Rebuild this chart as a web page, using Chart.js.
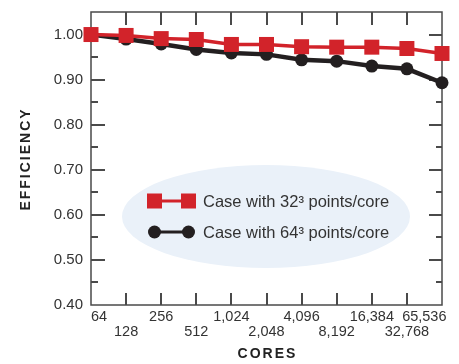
<!DOCTYPE html>
<html>
<head>
<meta charset="utf-8">
<script src="https://cdn.jsdelivr.net/npm/chart.js@4/dist/chart.umd.min.js"></script>
<style>
  html, body { margin: 0; padding: 0; background: #ffffff; }
  #wrap { width: 459px; height: 364px; }
</style>
</head>
<body>
<div id="wrap"><canvas id="c" width="459" height="364"></canvas></div>
<script>
// ---- data ----
const categories = ['64', '128', '256', '512', '1,024', '2,048', '4,096', '8,192', '16,384', '32,768', '65,536'];
const case32 = [1.000, 0.998, 0.991, 0.989, 0.978, 0.978, 0.973, 0.972, 0.972, 0.969, 0.958];
const case64 = [1.000, 0.990, 0.979, 0.967, 0.959, 0.956, 0.944, 0.941, 0.930, 0.924, 0.893];
const yTickValues = [0.40, 0.50, 0.60, 0.70, 0.80, 0.90, 1.00];
const yMinorValues = [0.45, 0.55, 0.65, 0.75, 0.85, 0.95];
const seriesNames = ['Case with 32³ points/core', 'Case with 64³ points/core'];
const xTitle = 'CORES';
const yTitle = 'EFFICIENCY';

const RED = '#d2232a';
const BLACK = '#231f20';
const AXIS = '#4a4a4a';
const TEXT = '#333333';

const framePlugin = {
  id: 'frame',
  beforeDatasetsDraw(chart) {
    const ctx = chart.ctx;
    const a = chart.chartArea;
    const xs = chart.scales.x, ys = chart.scales.y;
    ctx.save();
    // legend ellipse
    ctx.fillStyle = '#eaf1f9';
    ctx.beginPath();
    ctx.ellipse((a.left + a.right) / 2 - 0.5, 216.5, 144, 51.5, 0, 0, Math.PI * 2);
    ctx.fill();
    // frame
    ctx.strokeStyle = AXIS;
    ctx.lineWidth = 1.5;
    ctx.strokeRect(a.left, a.top, a.right - a.left, a.bottom - a.top);
    // x ticks (top and bottom, inward)
    ctx.lineWidth = 2;
    ctx.beginPath();
    for (let i = 1; i < categories.length - 1; i++) {
      const x = Math.round(xs.getPixelForValue(i));
      ctx.moveTo(x, a.top); ctx.lineTo(x, a.top + 13);
      ctx.moveTo(x, a.bottom); ctx.lineTo(x, a.bottom - 12);
    }
    // y ticks (left and right, inward)
    yTickValues.forEach(v => {
      if (v <= ys.min) return;
      const y = Math.round(ys.getPixelForValue(v));
      ctx.moveTo(a.left, y); ctx.lineTo(a.left + 14, y);
      ctx.moveTo(a.right, y); ctx.lineTo(a.right - 13, y);
    });
    yMinorValues.forEach(v => {
      const y = Math.round(ys.getPixelForValue(v));
      ctx.moveTo(a.left, y); ctx.lineTo(a.left + 7, y);
      ctx.moveTo(a.right, y); ctx.lineTo(a.right - 6, y);
    });
    ctx.stroke();
    ctx.restore();
  },
  afterDraw(chart) {
    const ctx = chart.ctx;
    const a = chart.chartArea;
    const xs = chart.scales.x, ys = chart.scales.y;
    ctx.save();
    ctx.fillStyle = TEXT;
    // y tick labels
    ctx.font = '15px "Liberation Sans", Arial, sans-serif';
    ctx.textAlign = 'right';
    ctx.textBaseline = 'middle';
    yTickValues.forEach(v => {
      ctx.fillText(v.toFixed(2), a.left - 8, ys.getPixelForValue(v));
    });
    // x tick labels, staggered on two rows
    ctx.font = '14.5px "Liberation Sans", Arial, sans-serif';
    categories.forEach((lab, i) => {
      let x = xs.getPixelForValue(i);
      const y = a.bottom + (i % 2 === 0 ? 12 : 27);
      if (i === 0) { ctx.textAlign = 'left'; }
      else if (i === categories.length - 1) { ctx.textAlign = 'right'; x += 4.5; }
      else { ctx.textAlign = 'center'; }
      ctx.fillText(lab, x, y);
    });
    // axis titles
    ctx.fillStyle = '#222222';
    ctx.font = 'bold 14px "Liberation Sans", Arial, sans-serif';
    ctx.letterSpacing = '2px';
    ctx.textAlign = 'center';
    ctx.fillText(xTitle, (a.left + a.right) / 2 + 1, 354);
    ctx.save();
    ctx.translate(26, 160);
    ctx.rotate(-Math.PI / 2);
    ctx.fillText(yTitle, 1, 0);
    ctx.restore();
    ctx.letterSpacing = '0px';
    // legend
    const rows = [
      { y: 201, color: RED, style: 'rect', lw: 3, name: seriesNames[0] },
      { y: 232, color: BLACK, style: 'circle', lw: 3, name: seriesNames[1] }
    ];
    const x0 = 154.5, x1 = 188.5;
    rows.forEach(r => {
      ctx.strokeStyle = r.color;
      ctx.fillStyle = r.color;
      ctx.lineWidth = r.lw;
      ctx.beginPath();
      ctx.moveTo(x0, r.y); ctx.lineTo(x1, r.y);
      ctx.stroke();
      [x0, x1].forEach(px => {
        if (r.style === 'rect') {
          ctx.fillRect(px - 7.5, r.y - 7.5, 15, 15);
        } else {
          ctx.beginPath();
          ctx.arc(px, r.y, 6.5, 0, Math.PI * 2);
          ctx.fill();
        }
      });
      ctx.fillStyle = TEXT;
      ctx.font = '16.5px "Liberation Sans", Arial, sans-serif';
      ctx.textAlign = 'left';
      ctx.textBaseline = 'middle';
      ctx.fillText(r.name, 203, r.y + 1);
    });
    ctx.restore();
  }
};

new Chart(document.getElementById('c'), {
  type: 'line',
  data: {
    labels: categories,
    datasets: [
      {
        label: seriesNames[0],
        data: case32,
        borderColor: RED,
        backgroundColor: RED,
        borderWidth: 3.5,
        pointStyle: 'rect',
        pointRadius: 10.6,
        pointBorderWidth: 0,
        pointBackgroundColor: RED,
        tension: 0,
        clip: false
      },
      {
        label: seriesNames[1],
        data: case64,
        borderColor: BLACK,
        backgroundColor: BLACK,
        borderWidth: 4.5,
        pointStyle: 'circle',
        pointRadius: 6.5,
        pointBorderWidth: 0,
        pointBackgroundColor: BLACK,
        tension: 0,
        clip: false
      }
    ]
  },
  options: {
    responsive: false,
    animation: false,
    devicePixelRatio: 1,
    layout: { padding: { left: 91, top: 12, right: 17, bottom: 59 } },
    scales: {
      x: { type: 'category', display: false, offset: false },
      y: { type: 'linear', display: false, min: 0.40, max: 1.05 }
    },
    plugins: {
      legend: { display: false },
      tooltip: { enabled: false }
    }
  },
  plugins: [framePlugin]
});
</script>
</body>
</html>
